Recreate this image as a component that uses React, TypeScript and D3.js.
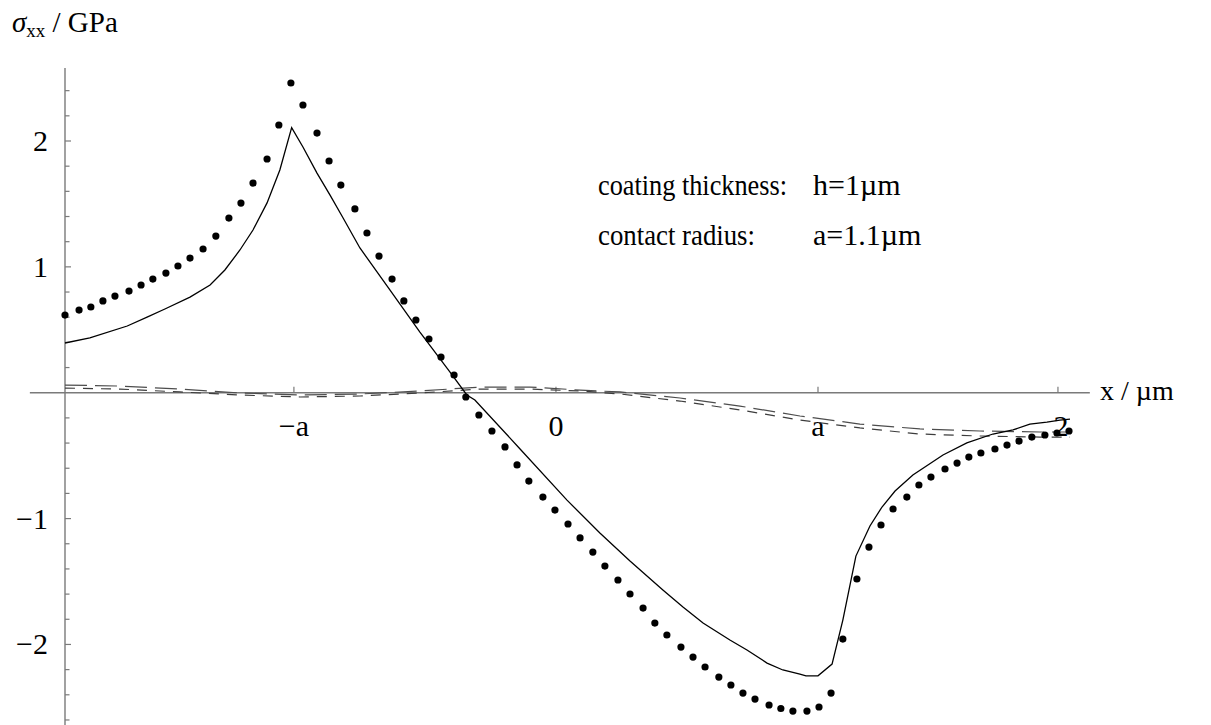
import React from "react";
import * as d3 from "d3";

// ---- data (x in plot units, y in GPa) ----
const dotX = [-1.956, -1.900, -1.853, -1.805, -1.757, -1.701, -1.653, -1.606, -1.554, -1.506, -1.458, -1.406, -1.355, -1.303, -1.255, -1.207, -1.151, -1.104, -1.056, -1.008, -0.952, -0.904, -0.857, -0.801, -0.753, -0.705, -0.653, -0.606, -0.558, -0.506, -0.458, -0.406, -0.359, -0.307, -0.255, -0.203, -0.155, -0.108, -0.052, -0.004, 0.048, 0.096, 0.147, 0.195, 0.247, 0.295, 0.347, 0.394, 0.442, 0.498, 0.546, 0.594, 0.649, 0.697, 0.745, 0.793, 0.849, 0.896, 0.944, 1.000, 1.048, 1.096, 1.143, 1.199, 1.247, 1.295, 1.343, 1.398, 1.446, 1.494, 1.550, 1.598, 1.645, 1.693, 1.749, 1.797, 1.845, 1.896, 1.948, 1.996, 2.044];
const dotY = [0.617, 0.657, 0.681, 0.729, 0.768, 0.808, 0.856, 0.903, 0.951, 1.007, 1.070, 1.142, 1.245, 1.388, 1.507, 1.666, 1.857, 2.127, 2.461, 2.286, 2.063, 1.841, 1.650, 1.460, 1.269, 1.086, 0.903, 0.729, 0.578, 0.427, 0.284, 0.141, -0.034, -0.177, -0.304, -0.431, -0.574, -0.702, -0.829, -0.932, -1.043, -1.154, -1.266, -1.377, -1.488, -1.599, -1.711, -1.830, -1.925, -2.021, -2.100, -2.179, -2.259, -2.322, -2.386, -2.434, -2.481, -2.509, -2.529, -2.529, -2.497, -2.386, -1.957, -1.480, -1.226, -1.051, -0.924, -0.829, -0.733, -0.670, -0.606, -0.559, -0.511, -0.479, -0.447, -0.416, -0.384, -0.352, -0.336, -0.320, -0.304];

const solidX = [-1.956, -1.857, -1.708, -1.629, -1.558, -1.458, -1.378, -1.319, -1.259, -1.207, -1.151, -1.100, -1.053, -1.008, -0.952, -0.900, -0.848, -0.781, -0.661, -0.542, -0.422, -0.355, -0.323, -0.143, 0.044, 0.175, 0.295, 0.426, 0.506, 0.586, 0.693, 0.761, 0.841, 0.904, 0.972, 0.996, 1.044, 1.100, 1.143, 1.195, 1.251, 1.299, 1.351, 1.422, 1.542, 1.637, 1.741, 1.821, 1.888, 1.956, 2.008, 2.048];
const solidY = [0.395, 0.435, 0.530, 0.601, 0.665, 0.760, 0.856, 0.975, 1.134, 1.293, 1.508, 1.770, 2.106, 1.952, 1.745, 1.570, 1.388, 1.150, 0.816, 0.482, 0.164, -0.018, -0.058, -0.447, -0.853, -1.115, -1.337, -1.568, -1.703, -1.830, -1.965, -2.044, -2.148, -2.203, -2.235, -2.249, -2.249, -2.156, -1.806, -1.298, -1.059, -0.908, -0.781, -0.654, -0.495, -0.399, -0.328, -0.296, -0.249, -0.233, -0.218, -0.210];

const dashX = [-1.956, -1.737, -1.498, -1.259, -1.020, -0.781, -0.542, -0.303, -0.104, 0.096, 0.255, 0.494, 0.733, 0.972, 1.211, 1.450, 1.689, 1.928, 2.048];
const dashUpperY = [0.061, 0.053, 0.029, -0.002, -0.018, -0.010, 0.014, 0.045, 0.045, 0.021, 0.006, -0.042, -0.106, -0.185, -0.249, -0.288, -0.304, -0.312, -0.312];
const dashLowerY = [0.037, 0.029, 0.006, -0.018, -0.034, -0.026, -0.002, 0.029, 0.029, 0.014, -0.010, -0.066, -0.137, -0.217, -0.280, -0.328, -0.344, -0.352, -0.352];

const yMinorTicks = [-2.6, -2.4, -2.2, -2.0, -1.8, -1.6, -1.4, -1.2, -1.0, -0.8, -0.6, -0.4, -0.2, 0.2, 0.4, 0.6, 0.8, 1.0, 1.2, 1.4, 1.6, 1.8, 2.0, 2.2, 2.4];
const yLabelValues = [2, 1, -1, -2];
const yLabelTexts = ["2", "1", "\u22121", "\u22122"];
const A = 1.044;
const xTickValues = [-A, 0, A, 2];
const xTickTexts = ["\u2212a", "0", "a", "2"];

const legendLabels = ["coating thickness:", "contact radius:"];
const legendLabelWidths = [189, 157];
const legendValues = ["h=1\u00b5m", "a=1.1\u00b5m"];

const W = 1211;
const H = 725;
const FONT = "'Liberation Serif', 'Times New Roman', serif";

export default function App() {
  const x = d3.scaleLinear().domain([-1.956, 2.048]).range([65, 1070]);
  const y = d3.scaleLinear().domain([-2.64, 2.58]).range([725, 68]);

  const line = d3
    .line<[number, number]>()
    .x((d) => x(d[0]))
    .y((d) => y(d[1]));

  const solid = solidX.map((v, i) => [v, solidY[i]] as [number, number]);
  const dashU = dashX.map((v, i) => [v, dashUpperY[i]] as [number, number]);
  const dashL = dashX.map((v, i) => [v, dashLowerY[i]] as [number, number]);

  const axisColor = "#7a7a7a";
  const x0 = x(-1.956);
  const y0 = y(0);

  return (
    <div style={{ position: "absolute", left: 0, top: 0 }}>
      <svg width={W} height={H} style={{ display: "block", background: "#fff" }} fontFamily={FONT}>
        <rect x={0} y={0} width={W} height={H} fill="#fff" />
        {/* axes */}
        <line x1={x(-2.096)} x2={x(2.127)} y1={y0} y2={y0} stroke={axisColor} strokeWidth={1.4} />
        <line x1={x0} x2={x0} y1={y(2.58)} y2={y(-2.64)} stroke={axisColor} strokeWidth={1.4} />
        {yMinorTicks.map((v) => {
          const major = Math.abs(v - Math.round(v)) < 1e-6;
          return (
            <line key={"yt" + v} x1={x0} x2={x0 + (major ? 6 : 4.5)} y1={y(v)} y2={y(v)} stroke={axisColor} strokeWidth={1.2} />
          );
        })}
        {xTickValues.map((v, i) => (
          <line key={"xt" + i} x1={x(v)} x2={x(v)} y1={y0} y2={y0 - 6} stroke={axisColor} strokeWidth={1.2} />
        ))}
        {/* tick labels */}
        {yLabelValues.map((v, i) => (
          <text key={"yl" + i} x={48} y={y(v) + 10} fontSize={30} textAnchor="end" fill="#000">
            {yLabelTexts[i]}
          </text>
        ))}
        {xTickValues.map((v, i) => (
          <text key={"xl" + i} x={x(v) + (i === 3 ? 3 : 0)} y={436} fontSize={30} textAnchor="middle" fill="#000">
            {xTickTexts[i]}
          </text>
        ))}
        {/* axis labels */}
        <text x={1100} y={400} fontSize={28} fill="#000">x / µm</text>
        <text x={12} y={32} fontSize={29} fill="#000">
          <tspan fontStyle="italic">σ</tspan>
          <tspan fontSize={19} dy={5}>xx</tspan>
          <tspan dy={-5}> / GPa</tspan>
        </text>
        {/* dashed curves */}
        <path d={line(dashU) || ""} fill="none" stroke="#4d4d4d" strokeWidth={1.2} strokeDasharray="22,8" />
        <path d={line(dashL) || ""} fill="none" stroke="#3d3d3d" strokeWidth={1.2} strokeDasharray="10,8" />
        {/* solid curve */}
        <path d={line(solid) || ""} fill="none" stroke="#000" strokeWidth={1.3} />
        {/* dots */}
        {dotX.map((v, i) => (
          <circle key={"d" + i} cx={x(v)} cy={y(dotY[i])} r={3.6} fill="#000" />
        ))}
        {/* annotation */}
        {legendLabels.map((t, i) => (
          <g key={"lg" + i}>
            <text x={598} y={195 + i * 50} fontSize={29} fill="#000" textLength={legendLabelWidths[i]} lengthAdjust="spacingAndGlyphs">{t}</text>
            <text x={813} y={195 + i * 50} fontSize={30} fill="#000">{legendValues[i]}</text>
          </g>
        ))}
      </svg>
    </div>
  );
}
